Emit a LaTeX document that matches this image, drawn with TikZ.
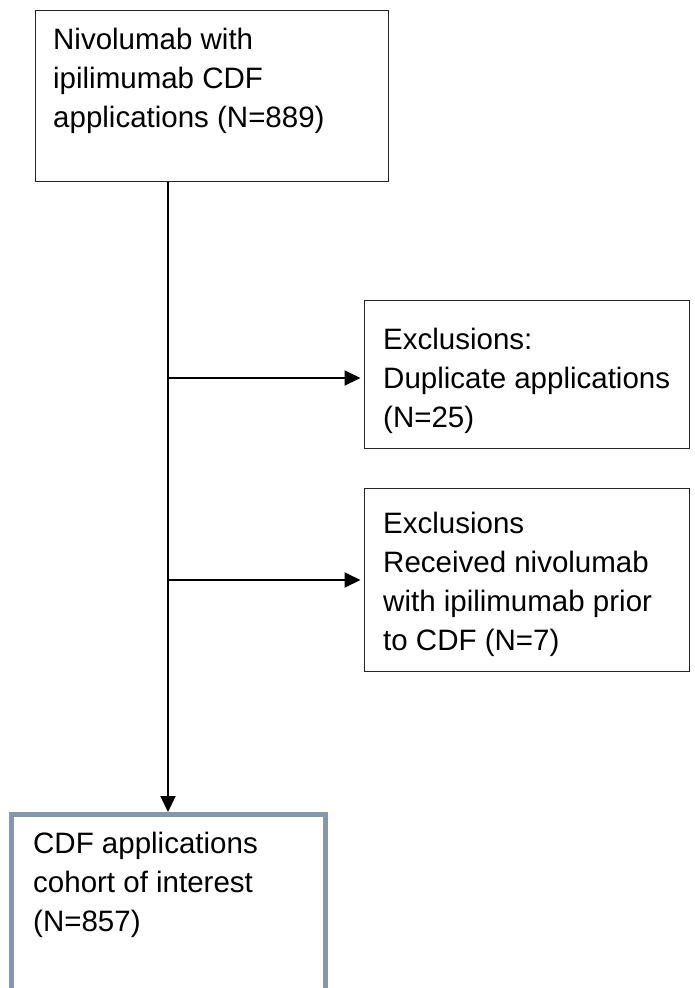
\documentclass[tikz,border=0pt]{standalone}
\usepackage{fontspec}
\setmainfont{Liberation Sans}
\usetikzlibrary{positioning,arrows.meta}
\definecolor{cohortblue}{RGB}{132,151,176}

\begin{document}
\begin{tikzpicture}[x=1pt, y=-1pt, every node/.style={font=\fontsize{29.5}{39}\selectfont}, >={Triangle[length=16pt,width=15pt]},
	box/.style={draw=black!85, line width=1.4pt, outer sep=0.7pt, inner sep=0, anchor=north west},
	txt/.style={inner sep=0, align=left, anchor=north west}]
	\clip (0,0) rectangle (694,988);
	\node[box, minimum width=353.5pt, minimum height=171.5pt] (src) at (34.5,9.5) {};
	\node[txt, below right=18pt and 18.5pt of src.north west] (srctxt) {Nivolumab with\\ipilimumab CDF\\applications (N=889)};
	\node[box, minimum width=325pt, minimum height=148pt] (exA) at (364,300) {};
	\node[txt, below right=27.5pt and 19pt of exA.north west] (exAtxt) {Exclusions:\\Duplicate applications\\(N=25)};
	\node[box, minimum width=325pt, minimum height=183pt] (exB) at (364,488) {};
	\node[txt, below right=23.5pt and 19pt of exB.north west] (exBtxt) {Exclusions\\Received nivolumab\\with ipilimumab prior\\to CDF (N=7)};
	\node[draw=cohortblue, line width=5pt, minimum width=314pt, minimum height=200pt, inner sep=0, anchor=north west] (cohort) at (8.5,812) {};
	\node[txt, below right=20pt and 24.5pt of cohort.north west] (cohorttxt) {CDF applications\\cohort of interest\\(N=857)};
	\coordinate (jA) at (168,378);
	\coordinate (jB) at (168,580);
	\draw[->, line width=2pt] (src.south -| cohort.north) -- (cohort.north);
	\draw[->, line width=2pt, shorten >=3.5pt] (jA) -- (jA -| exA.west);
	\draw[->, line width=2pt, shorten >=3.5pt] (jB) -- (jB -| exB.west);
\end{tikzpicture}
\end{document}
